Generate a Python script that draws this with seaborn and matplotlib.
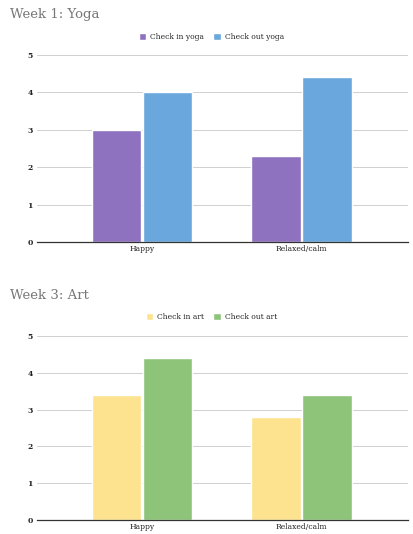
import pandas as pd
import matplotlib.pyplot as plt
import seaborn as sns

sns.set_theme(style="white")
plt.rcParams['font.family'] = ['DejaVu Serif']

FEELINGS = ['Happy', 'Relaxed/calm']

YOGA_LABELS = ['Check in yoga', 'Check out yoga']
YOGA_IN = [3.0, 2.3]
YOGA_OUT = [4.0, 4.4]

ART_LABELS = ['Check in art', 'Check out art']
ART_IN = [3.4, 2.8]
ART_OUT = [4.4, 3.4]

YOGA_COLORS = ['#8e72bf', '#6aa7dd']
ART_COLORS = ['#fde38f', '#8ec47a']


def make_df(labels, check_in, check_out):
    rows = []
    for f, v in zip(FEELINGS, check_in):
        rows.append({'Feeling': f, 'Series': labels[0], 'Value': v})
    for f, v in zip(FEELINGS, check_out):
        rows.append({'Feeling': f, 'Series': labels[1], 'Value': v})
    return pd.DataFrame(rows)


def draw_panel(ax, df, colors, title, title_y, legend_y):
    sns.barplot(data=df, x='Feeling', y='Value', hue='Series', palette=colors,
                width=0.64, gap=0.03, ax=ax, saturation=1)
    ax.set_ylim(0, 5)
    ax.set_xlim(-0.66, 1.67)
    ax.set_yticks([0, 1, 2, 3, 4, 5])
    ax.yaxis.grid(True, color='#d0d0d0', linewidth=0.7)
    ax.set_axisbelow(True)
    for s in ['top', 'right', 'left']:
        ax.spines[s].set_visible(False)
    ax.spines['bottom'].set_color('#333333')
    ax.spines['bottom'].set_linewidth(0.9)
    ax.set_xlabel('')
    ax.set_ylabel('')
    ax.tick_params(axis='both', length=0, labelsize=5.5, colors='#222222', pad=3)
    ax.tick_params(axis='x', pad=2)
    for t in ax.get_yticklabels():
        t.set_fontweight('bold')
    ax.legend(loc='center', bbox_to_anchor=(0.47, legend_y), ncol=2,
              frameon=False, fontsize=5.5, handlelength=1.0, handleheight=1.0,
              columnspacing=1.2, handletextpad=0.5)
    ax.figure.text(0.024, title_y, title, fontsize=9.5, color='#777777',
                   va='center', ha='left')


fig = plt.figure(figsize=(4.14, 5.34), dpi=100)

ax1 = fig.add_axes([0.089, 0.547, 0.897, 0.35])
draw_panel(ax1, make_df(YOGA_LABELS, YOGA_IN, YOGA_OUT), YOGA_COLORS,
           'Week 1: Yoga', 0.972, 1.095)

ax2 = fig.add_axes([0.089, 0.026, 0.897, 0.345])
draw_panel(ax2, make_df(ART_LABELS, ART_IN, ART_OUT), ART_COLORS,
           'Week 3: Art', 0.446, 1.10)

plt.savefig('out.png', dpi=100)
plt.close()
